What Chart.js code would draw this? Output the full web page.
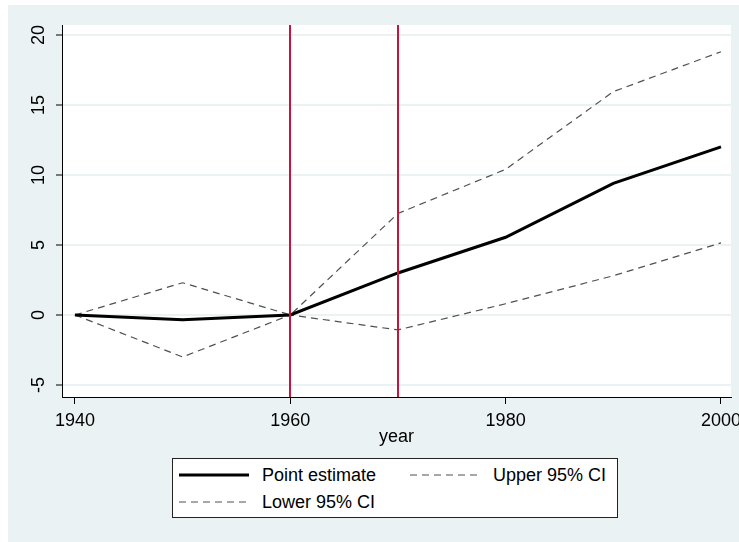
<!DOCTYPE html>
<html><head><meta charset="utf-8">
<script src="https://cdn.jsdelivr.net/npm/chart.js@4/dist/chart.umd.min.js"></script>
<style>
html,body{margin:0;padding:0;background:#fff;}
#wrap{position:relative;width:739px;height:542px;overflow:hidden;}
#bg{position:absolute;left:8px;top:5px;width:731px;height:537px;background:rgb(234,242,243);}
canvas{position:absolute;left:0;top:0;}
#legend{position:absolute;left:172px;top:458px;width:444px;height:58px;border:1px solid #222;background:#fff;font-family:'Liberation Sans',Arial,sans-serif;font-size:18px;color:#000;}
.item{position:absolute;height:20px;display:flex;align-items:center;white-space:nowrap;}
.item svg{margin-right:13px;flex:none;}
</style></head>
<body><div id="wrap"><div id="bg"></div><canvas id="c" width="739" height="542"></canvas><div id="legend"></div></div>
<script>
const years = [1940, 1950, 1960, 1970, 1980, 1990, 2000];
const pointEstimate = [0, -0.35, 0, 3.0, 5.55, 9.4, 12.0];
const upperCI = [0, 2.3, 0, 7.25, 10.4, 15.95, 18.8];
const lowerCI = [0, -3.0, 0, -1.07, 0.8, 2.8, 5.15];
const xTickValues = [1940, 1960, 1980, 2000];
const yTickValues = [-5, 0, 5, 10, 15, 20];
const eventYears = [1960, 1970];
const seriesNames = ['Point estimate', 'Upper 95% CI', 'Lower 95% CI'];

const FONT = "'Liberation Sans', Arial, sans-serif";
const toPts = vals => years.map((x, i) => ({x: x, y: vals[i]}));

const ciStyle = {borderColor: '#505050', borderWidth: 1.2, borderDash: [7, 5]};

const bgPlugin = {
  id: 'plotbg',
  beforeDraw(chart) {
    const {ctx, chartArea: a} = chart;
    ctx.save();
    ctx.fillStyle = '#fff';
    ctx.fillRect(a.left, a.top, a.right - a.left, a.bottom - a.top);
    ctx.restore();
  }
};

const vlinePlugin = {
  id: 'vlines',
  afterDatasetsDraw(chart) {
    const {ctx, chartArea: a, scales: {x}} = chart;
    ctx.save();
    ctx.strokeStyle = '#C8143C';
    ctx.lineWidth = 2;
    eventYears.forEach(v => {
      const px = Math.round(x.getPixelForValue(v));
      ctx.beginPath();
      ctx.moveTo(px, a.top);
      ctx.lineTo(px, a.bottom);
      ctx.stroke();
    });
    ctx.restore();
  }
};

const yLabelPlugin = {
  id: 'ylabels',
  afterDraw(chart) {
    const {ctx, scales: {y}} = chart;
    ctx.save();
    ctx.font = '18px ' + FONT;
    ctx.fillStyle = '#000';
    ctx.textAlign = 'center';
    ctx.textBaseline = 'alphabetic';
    yTickValues.forEach(v => {
      const py = y.getPixelForValue(v);
      ctx.save();
      ctx.translate(44, py);
      ctx.rotate(-Math.PI / 2);
      ctx.fillText(String(v), 0, 0);
      ctx.restore();
    });
    ctx.restore();
  }
};

const chart = new Chart(document.getElementById('c'), {
  type: 'line',
  data: {
    datasets: [
      Object.assign({label: seriesNames[0], data: toPts(pointEstimate), borderColor: '#000', borderWidth: 3}),
      Object.assign({label: seriesNames[1], data: toPts(upperCI)}, ciStyle),
      Object.assign({label: seriesNames[2], data: toPts(lowerCI)}, ciStyle)
    ].map(d => Object.assign(d, {pointRadius: 0, tension: 0, fill: false}))
  },
  options: {
    responsive: false,
    animation: false,
    devicePixelRatio: 1,
    layout: {padding: {left: 0, right: 8, top: 25, bottom: 94}},
    plugins: {legend: {display: false}, tooltip: {enabled: false}},
    scales: {
      x: {
        type: 'linear', min: 1938.8, max: 2000.93,
        afterBuildTicks: s => { s.ticks = xTickValues.map(v => ({value: v})); },
        afterFit: s => { s.height = 51; s.paddingLeft = 0; s.paddingRight = 0; },
        grid: {drawOnChartArea: false, drawTicks: true, tickLength: 7, tickColor: '#000', tickWidth: 1},
        border: {display: true, color: '#000', width: 1},
        ticks: {font: {family: FONT, size: 18}, color: '#000', padding: 6, autoSkip: false, maxRotation: 0, callback: v => String(v)},
        title: {display: true, text: 'year', font: {family: FONT, size: 18}, color: '#000', padding: 0}
      },
      y: {
        type: 'linear', min: -5.86, max: 20.71,
        afterBuildTicks: s => { s.ticks = yTickValues.map(v => ({value: v})); },
        afterFit: s => { s.width = 62; s.paddingTop = 0; s.paddingBottom = 0; },
        grid: {color: 'rgb(234,242,243)', lineWidth: 2, drawOnChartArea: true, drawTicks: true, tickLength: 6, tickColor: '#000', tickWidth: 1},
        border: {display: true, color: '#000', width: 1},
        ticks: {display: false}
      }
    }
  },
  plugins: [bgPlugin, vlinePlugin, yLabelPlugin]
});

// HTML legend built from the chart's datasets
const legend = document.getElementById('legend');
const colLeft = [6, 237];
const rowTop = [6, 33];
chart.data.datasets.forEach((d, i) => {
  const item = document.createElement('div');
  item.className = 'item';
  item.style.left = colLeft[i % 2] + 'px';
  item.style.top = rowTop[Math.floor(i / 2)] + 'px';
  const ns = 'http://www.w3.org/2000/svg';
  const svg = document.createElementNS(ns, 'svg');
  svg.setAttribute('width', '70'); svg.setAttribute('height', '6');
  const ln = document.createElementNS(ns, 'line');
  ln.setAttribute('x1', '0'); ln.setAttribute('x2', '70');
  ln.setAttribute('y1', '3'); ln.setAttribute('y2', '3');
  ln.setAttribute('stroke', d.borderColor);
  ln.setAttribute('stroke-width', d.borderWidth);
  if (d.borderDash) ln.setAttribute('stroke-dasharray', d.borderDash.join(' '));
  svg.appendChild(ln);
  const span = document.createElement('span');
  span.textContent = d.label;
  item.appendChild(svg); item.appendChild(span);
  legend.appendChild(item);
});
</script>
</body></html>
